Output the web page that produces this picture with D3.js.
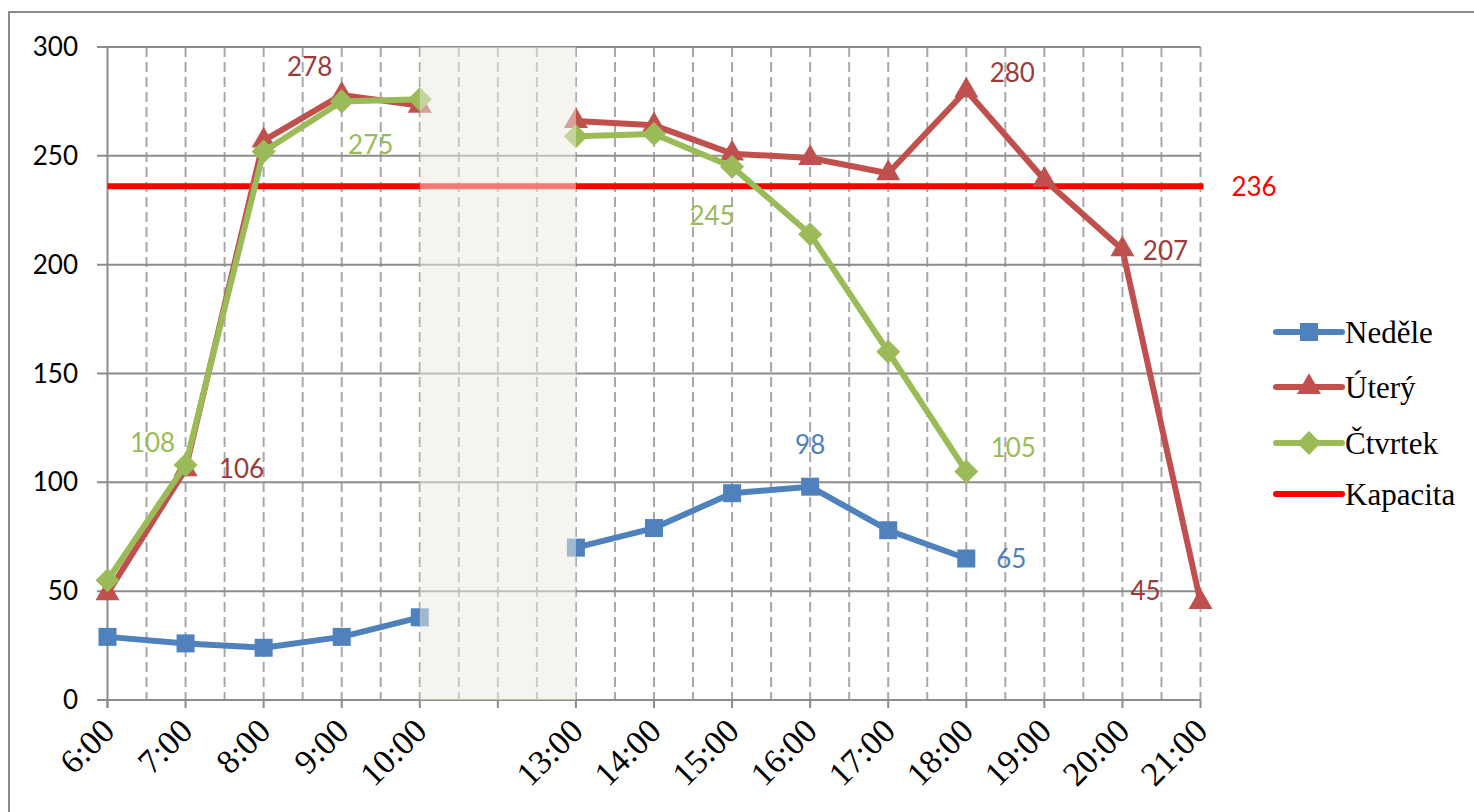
<html>
<head>
  <title>Obsazenost</title>
  <script src="https://d3js.org/d3.v7.min.js"></script>
  <style>
    body {
      margin: 0;
      background: #fff;
    }
    .ylab {
      font-family: Lato, "Open Sans", sans-serif;
      font-size: 26px;
      fill: #000;
    }
    .xlab {
      font-family: "Liberation Serif", "Times New Roman", serif;
      font-size: 34px;
      fill: #000;
    }
    .legend text {
      font-family: "Liberation Serif", "Times New Roman", serif;
      font-size: 31px;
      fill: #000;
    }
    .dlab {
      font-family: Lato, "Open Sans", sans-serif;
      font-size: 26px;
    }
  </style>
</head>
<body>
  <script>
    // data (blank slot = lunch break)
    var hours = ["6:00", "7:00", "8:00", "9:00", "10:00", "", "13:00", "14:00", "15:00", "16:00", "17:00", "18:00", "19:00", "20:00", "21:00"];
    var nedele = [29, 26, 24, 29, 38, null, 70, 79, 95, 98, 78, 65, null, null, null];
    var utery = [49, 106, 257, 278, 273, null, 266, 264, 251, 249, 242, 280, 239, 207, 45];
    var ctvrtek = [55, 108, 252, 275, 276, null, 259, 260, 245, 214, 160, 105, null, null, null];
    var kapacita = 236;
    var yTicks = [0, 50, 100, 150, 200, 250, 300];
    var seriesNames = ["Neděle", "Úterý", "Čtvrtek", "Kapacita"];
    var breakFrom = "10:00", breakTo = "13:00";

    var width = 1474,
        height = 812;

    var svg = d3.select("body")
      .append("svg")
      .attr("width", width)
      .attr("height", height);

    var x = d3.scalePoint()
      .domain(hours)
      .range([107.5, 1200.5]);

    var y = d3.scaleLinear()
      .domain([0, 300])
      .range([700, 47]);

    var step = x.step();

    // outer frame
    svg.append("rect")
      .attr("x", 9).attr("y", 12)
      .attr("width", 1520).attr("height", 900)
      .attr("fill", "none")
      .attr("stroke", "#8a8a8a")
      .attr("stroke-width", 2);

    // vertical dashed grid, every half category
    var half = d3.range(1, hours.length * 2 - 1).map(function(i) { return x(hours[0]) + i * step / 2; });
    svg.append("g").selectAll("line")
      .data(half)
      .enter().append("line")
      .attr("x1", function(d) { return d; })
      .attr("x2", function(d) { return d; })
      .attr("y1", y(300)).attr("y2", y(0))
      .attr("stroke", "#a8a8a8")
      .attr("stroke-width", 2)
      .attr("stroke-dasharray", "10,5");

    // horizontal grid
    svg.append("g").selectAll("line")
      .data(yTicks)
      .enter().append("line")
      .attr("x1", 97).attr("x2", x.range()[1])
      .attr("y1", function(d) { return y(d); })
      .attr("y2", function(d) { return y(d); })
      .attr("stroke", "#8c8c8c")
      .attr("stroke-width", 2);

    // y axis
    svg.append("line")
      .attr("x1", x.range()[0]).attr("x2", x.range()[0])
      .attr("y1", y(300)).attr("y2", y(0) + 8)
      .attr("stroke", "#8c8c8c").attr("stroke-width", 2);

    svg.append("g").selectAll("text")
      .data(yTicks)
      .enter().append("text")
      .attr("class", "ylab")
      .attr("x", 78)
      .attr("y", function(d) { return y(d) + 9; })
      .attr("text-anchor", "end")
      .text(function(d) { return d; });

    // x axis ticks + labels
    svg.append("g").selectAll("line")
      .data(hours)
      .enter().append("line")
      .attr("x1", function(d) { return x(d); })
      .attr("x2", function(d) { return x(d); })
      .attr("y1", y(0)).attr("y2", y(0) + 8)
      .attr("stroke", "#8c8c8c").attr("stroke-width", 2);

    svg.append("g").selectAll("text")
      .data(hours.filter(function(d) { return d !== ""; }))
      .enter().append("text")
      .attr("class", "xlab")
      .attr("text-anchor", "end")
      .attr("transform", function(d) { return "translate(" + (x(d) + 9) + "," + 733 + ") rotate(-45)"; })
      .text(function(d) { return d; });

    // kapacita
    svg.append("line")
      .attr("x1", x.range()[0]).attr("x2", x.range()[1] + 3)
      .attr("y1", y(kapacita)).attr("y2", y(kapacita))
      .attr("stroke", "#ff0000")
      .attr("stroke-width", 6);

    var series = [
      { name: seriesNames[0], values: nedele, color: "#4f81bd", lab: "#4f81bd", shape: "square" },
      { name: seriesNames[1], values: utery, color: "#c0504d", lab: "#9c3b38", shape: "triangle" },
      { name: seriesNames[2], values: ctvrtek, color: "#9bbb59", lab: "#9bbb59", shape: "diamond" }
    ];

    function marker(shape) {
      if (shape == "square") return d3.symbol(d3.symbolSquare, 324)();
      if (shape == "triangle") return d3.symbol(d3.symbolTriangle, 250)();
      return d3.symbol(d3.symbolSquare, 290)();
    }
    function markerRot(shape) {
      return shape == "diamond" ? " rotate(45)" : "";
    }

    var line = d3.line()
      .defined(function(d) { return d != null; })
      .x(function(d, i) { return x(hours[i]); })
      .y(function(d) { return y(d); });

    series.forEach(function(s) {
      var g = svg.append("g");
      g.append("path")
        .attr("d", line(s.values))
        .attr("fill", "none")
        .attr("stroke", s.color)
        .attr("stroke-width", 6)
        .attr("stroke-linejoin", "round");
      g.selectAll("path.m")
        .data(s.values.map(function(v, i) { return { v: v, h: hours[i] }; }).filter(function(d) { return d.v != null; }))
        .enter().append("path")
        .attr("class", "m")
        .attr("d", marker(s.shape))
        .attr("fill", s.color)
        .attr("transform", function(d) { return "translate(" + x(d.h) + "," + y(d.v) + ")" + markerRot(s.shape); });
    });

    // data labels: [series index, hour, dx, dy] (hand placed like in the original)
    var labelSpots = [
      [1, "9:00", -32, -28], [2, "9:00", 29, 44], [2, "7:00", -33, -22], [1, "7:00", 56, 0],
      [2, "15:00", -20, 49], [1, "18:00", 46, -18], [1, "20:00", 43, 2], [1, "21:00", -55, -11],
      [0, "16:00", 0, -42], [0, "18:00", 45, 0], [2, "18:00", 47, -23]
    ];
    svg.append("g").selectAll("text")
      .data(labelSpots)
      .enter().append("text")
      .attr("class", "dlab")
      .attr("text-anchor", "middle")
      .attr("fill", function(d) { return series[d[0]].lab; })
      .attr("x", function(d) { return x(d[1]) + d[2]; })
      .attr("y", function(d) { return y(series[d[0]].values[hours.indexOf(d[1])]) + d[3] + 9; })
      .text(function(d) { return series[d[0]].values[hours.indexOf(d[1])]; });

    svg.append("text")
      .attr("class", "dlab")
      .attr("fill", "#ff0000")
      .attr("text-anchor", "middle")
      .attr("x", 1254)
      .attr("y", y(kapacita) + 10)
      .text(kapacita);

    // lunch break band, drawn over everything
    svg.append("rect")
      .attr("x", x(breakFrom))
      .attr("y", y(300))
      .attr("width", x(breakTo) - x(breakFrom))
      .attr("height", y(0) - y(300))
      .attr("fill", "#ece9e0")
      .attr("opacity", 0.52);

    // legend
    var legend = svg.append("g").attr("class", "legend");
    var legY = [332, 387, 443, 494];
    seriesNames.forEach(function(name, i) {
      var s = series[i];
      var color = s ? s.color : "#ff0000";
      legend.append("line")
        .attr("x1", 1276).attr("x2", 1342)
        .attr("y1", legY[i]).attr("y2", legY[i])
        .attr("stroke", color)
        .attr("stroke-width", 6)
        .attr("stroke-linecap", "round");
      if (s) {
        legend.append("path")
          .attr("d", marker(s.shape))
          .attr("fill", color)
          .attr("transform", "translate(1309," + legY[i] + ")" + markerRot(s.shape));
      }
      legend.append("text")
        .attr("x", 1345)
        .attr("y", legY[i] + 11)
        .text(name);
    });
  </script>
</body>
</html>
